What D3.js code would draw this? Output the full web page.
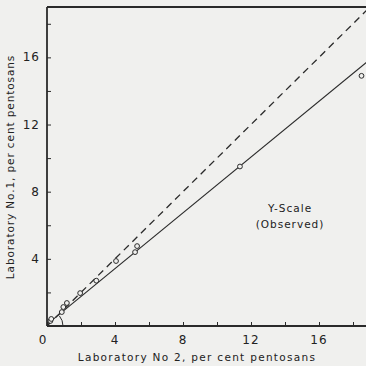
<!DOCTYPE html>
<html><head><meta charset="utf-8">
<script src="https://cdn.jsdelivr.net/npm/d3@7"></script>
<style>body{margin:0;background:#f0f0ee}svg{display:block}text{font-family:"DejaVu Sans",sans-serif;fill:#222}</style>
</head><body><svg id="c" width="366" height="366"></svg>
<script>
const lab2 = [0.2, 0.25, 0.87, 0.96, 1.17, 1.95, 2.9, 4.06, 5.18, 5.3, 11.35, 18.5];
const lab1 = [0.3, 0.42, 0.83, 1.13, 1.37, 1.96, 2.7, 3.87, 4.4, 4.76, 9.5, 14.9];
const majorTicks = [0, 4, 8, 12, 16];
const minorTicks = [2, 6, 10, 14, 18];
const fitSlope = [0.83];
const fitIntercept = [0.1];
const xLabel = "Laboratory No 2, per cent pentosans";
const yLabel = "Laboratory No.1, per cent pentosans";
const noteLines = ["Y-Scale", "(Observed)"];

const svg = d3.select("#c");
const x = d3.scaleLinear().domain([0, 19]).range([47, 370]);
const y = d3.scaleLinear().domain([0, 19]).range([326, 7]);
const ink = "#2a2a2a";

// frame
svg.append("line").attr("x1", x(0)).attr("x2", 366).attr("y1", y(19)).attr("y2", y(19)).attr("stroke", ink).attr("stroke-width", 1.8);

// axes
const xAxis = d3.axisBottom(x).tickValues(majorTicks.concat(minorTicks)).tickSize(-4).tickFormat("");
const gx = svg.append("g").attr("transform", `translate(0,${y(0)})`).call(xAxis);
gx.select(".domain").attr("d", `M${x(0)},0H366`).attr("stroke", ink).attr("stroke-width", 1.8);
gx.selectAll(".tick line").attr("stroke", ink);
const yAxis = d3.axisLeft(y).tickValues(majorTicks.concat(minorTicks).filter(d => d > 0)).tickSize(-4).tickFormat("");
const gy = svg.append("g").attr("transform", `translate(${x(0)},0)`).call(yAxis);
gy.select(".domain").attr("d", `M0,${y(19)}V${y(0)}`).attr("stroke", ink).attr("stroke-width", 1.8);
gy.selectAll(".tick line").attr("stroke", ink);

// tick labels
svg.selectAll(".xl").data(majorTicks).enter().append("text")
  .attr("x", d => x(d) - (d === 0 ? 4 : 0)).attr("y", 344).attr("text-anchor", "middle")
  .attr("font-size", 12).attr("letter-spacing", 1).text(d => d);
svg.selectAll(".yl").data(majorTicks.filter(d => d > 0)).enter().append("text")
  .attr("x", 40).attr("y", d => y(d) + 4).attr("text-anchor", "end")
  .attr("font-size", 12).attr("letter-spacing", 1).text(d => d);

// axis titles
svg.append("text").attr("x", 197).attr("y", 361).attr("text-anchor", "middle")
  .attr("font-size", 10.5).attr("letter-spacing", 1.3).text(xLabel);
svg.append("text").attr("transform", `translate(14,167) rotate(-90)`).attr("text-anchor", "middle")
  .attr("font-size", 10.5).attr("letter-spacing", 0.9).text(yLabel);

// equality line (dashed)
svg.append("line").attr("x1", x(0)).attr("y1", y(0)).attr("x2", x(19)).attr("y2", y(19))
  .attr("stroke", ink).attr("stroke-width", 1.3).attr("stroke-dasharray", "7,5");

// fitted line
const xs = [0, 19];
svg.append("path").datum(xs)
  .attr("d", d3.line().x(d => x(d)).y(d => y(fitIntercept[0] + fitSlope[0] * d)))
  .attr("stroke", ink).attr("stroke-width", 1.1).attr("fill", "none");

// angle arc (from x-axis up to fitted line)
const r = 16;
const ang = Math.atan2(y(0) - y(fitSlope[0] * 19), x(19) - x(0));
const p = d3.path();
p.arc(x(0), y(0), r, 0, -ang, true);
svg.append("path").attr("d", p.toString())
  .attr("stroke", ink).attr("stroke-width", 1).attr("fill", "none");

// points
svg.selectAll(".pt").data(lab2.map((d, i) => [d, lab1[i]])).enter().append("circle")
  .attr("cx", d => x(d[0])).attr("cy", d => y(d[1])).attr("r", 2.4)
  .attr("fill", "#f0f0ee").attr("stroke", ink).attr("stroke-width", 1);

// note
svg.selectAll(".note").data(noteLines).enter().append("text")
  .attr("x", 290).attr("y", (d, i) => 212 + i * 16).attr("text-anchor", "middle")
  .attr("font-size", 10.5).attr("letter-spacing", 1).text(d => d);
</script></body></html>
